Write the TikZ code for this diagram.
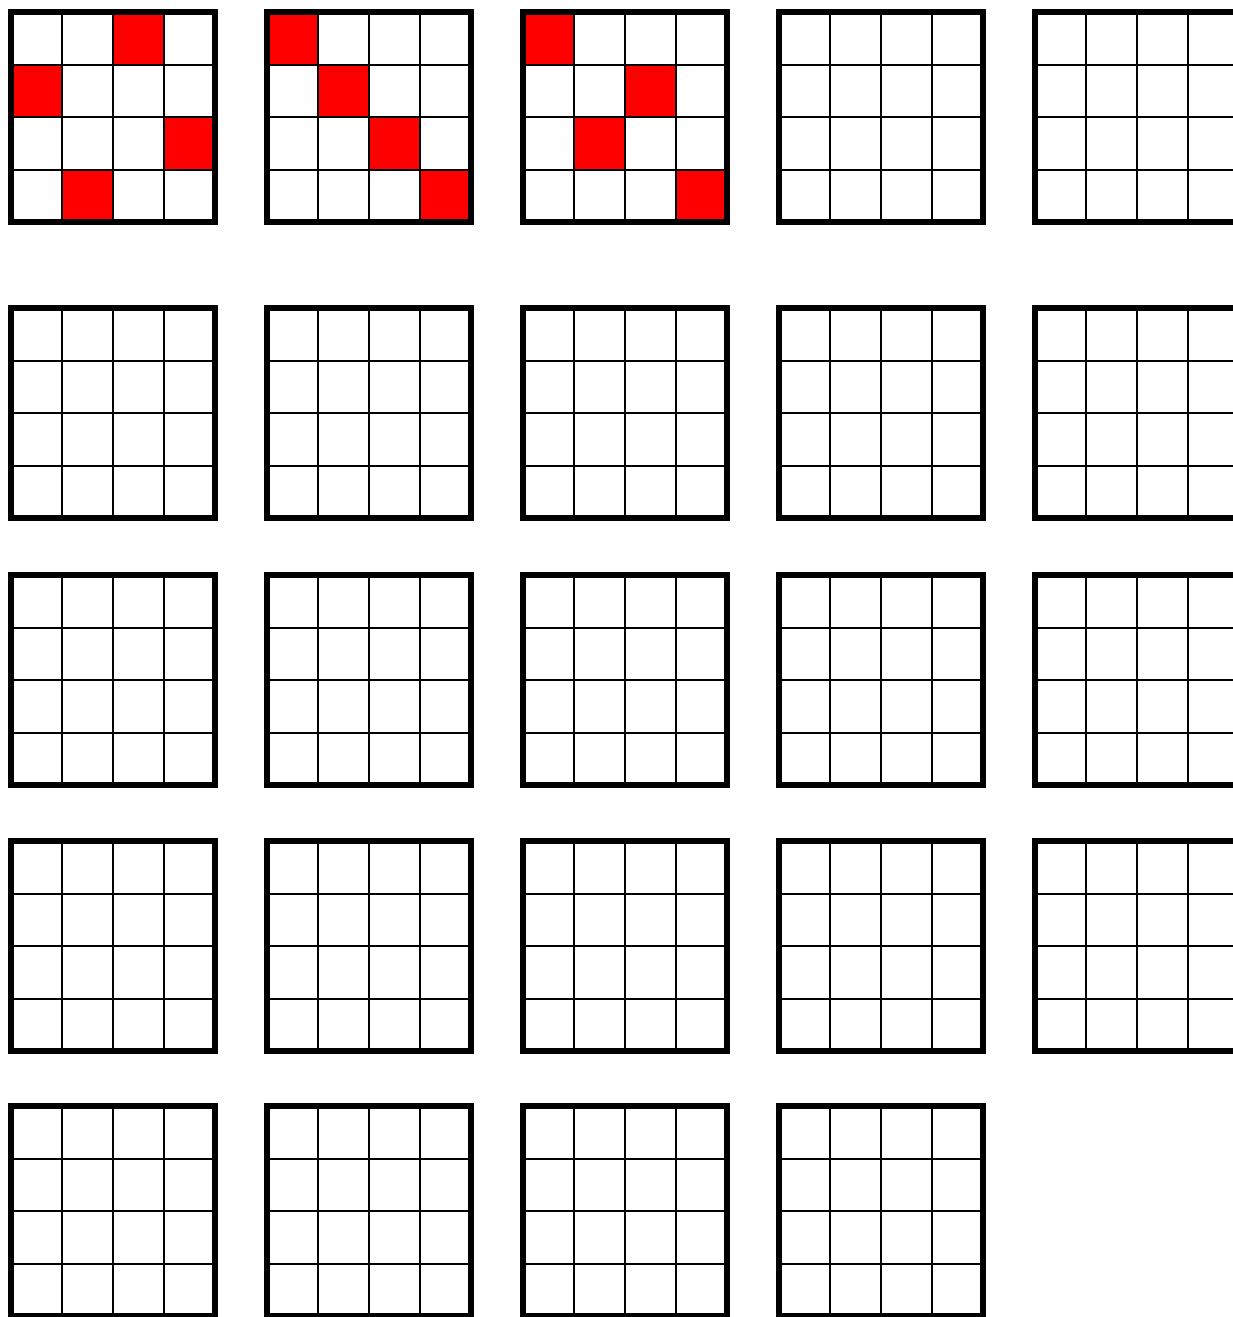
\documentclass[tikz,border=0pt]{standalone}
\usepackage{xcolor}
\usepackage{tikz}

\begin{document}
\begin{tikzpicture}[
    x=1pt, y=-1pt,
    cellline/.style={line width=2pt},
    frame/.style={line width=6pt},
    queen/.style={fill=red},
    board/.pic={
      \foreach \k in {1,2,3} {
        \draw[cellline] (51.2*\k,0) -- (51.2*\k,210);
        \draw[cellline] (0,52.5*\k) -- (204.8,52.5*\k);
      }
      \draw[frame] (0,0) rectangle (204.8,210);
    }
  ]
  \useasboundingbox (0,0) rectangle (1233,1317);
  \clip (0,0) rectangle (1233,1317);

  % red squares: board / row / column
  \foreach \c/\i/\j in {0/0/2, 0/1/0, 0/2/3, 0/3/1,
                        1/0/0, 1/1/1, 1/2/2, 1/3/3,
                        2/0/0, 2/1/2, 2/2/1, 2/3/3}
    \fill[queen] (10.5+256*\c+51.2*\j, 12+52.5*\i) rectangle ++(51.2,52.5);

  % boards
  \foreach \ry in {12,308,575,841}
    \foreach \c in {0,...,4}
      \pic at (10.5+256*\c, \ry) {board};
  \foreach \c in {0,...,3}
    \pic at (10.5+256*\c, 1106) {board};
\end{tikzpicture}
\end{document}
